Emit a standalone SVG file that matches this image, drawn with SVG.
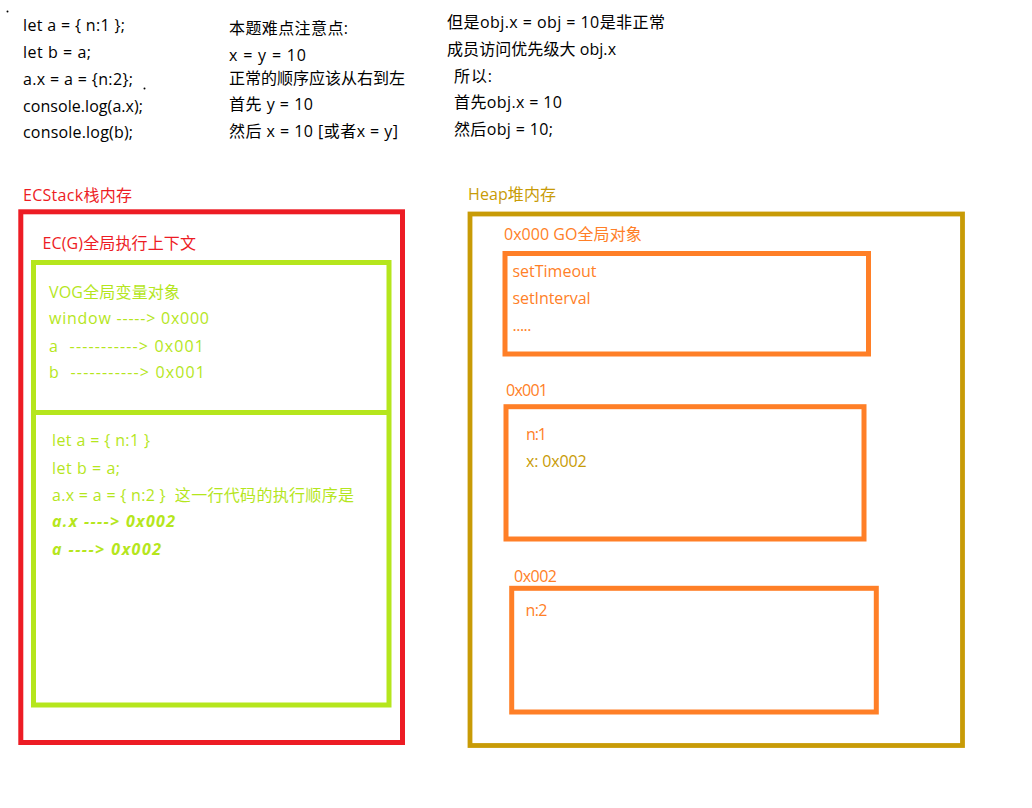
<svg xmlns="http://www.w3.org/2000/svg" width="1032" height="808" viewBox="0 0 1032 808">
<style>
text{font-family:"Open Sans","Noto Sans CJK SC",sans-serif;font-size:16px}
.k{fill:#000}
.r{fill:#ED1C24}
.g{fill:#B5E61D}
.y{fill:#C89B06}
.o{fill:#FF7F27}
.bi{font-weight:bold;font-style:italic}
.box{fill:none}
</style>
<rect width="1032" height="808" fill="#fff"/>
<g id="notes">
<circle cx="7.5" cy="11.5" r="1" fill="#000"/>
<circle cx="144.5" cy="88.5" r="1" fill="#000"/>
<text class="k" x="23" y="31" textLength="102" lengthAdjust="spacing">let a = { n:1 };</text>
<text class="k" x="23" y="58" textLength="68" lengthAdjust="spacing">let b = a;</text>
<text class="k" x="23" y="85" textLength="110" lengthAdjust="spacing">a.x = a = {n:2};</text>
<text class="k" x="23" y="112" textLength="120" lengthAdjust="spacing">console.log(a.x);</text>
<text class="k" x="23" y="138" textLength="110" lengthAdjust="spacing">console.log(b);</text>
<text class="k" x="229" y="34" textLength="119" lengthAdjust="spacing">本题难点注意点:</text>
<text class="k" x="229" y="61" textLength="77" lengthAdjust="spacing">x = y = 10</text>
<text class="k" x="229" y="84" textLength="176" lengthAdjust="spacing">正常的顺序应该从右到左</text>
<text class="k" x="229" y="110" textLength="84" lengthAdjust="spacing">首先 y = 10</text>
<text class="k" x="229" y="137" textLength="169" lengthAdjust="spacing">然后 x = 10 [或者x = y]</text>
<text class="k" x="447" y="28" textLength="218" lengthAdjust="spacing">但是obj.x = obj = 10是非正常</text>
<text class="k" x="447" y="55" textLength="169" lengthAdjust="spacing">成员访问优先级大 obj.x</text>
<text class="k" x="454" y="82" textLength="38" lengthAdjust="spacing">所以:</text>
<text class="k" x="454" y="108" textLength="108" lengthAdjust="spacing">首先obj.x = 10</text>
<text class="k" x="454" y="135" textLength="99" lengthAdjust="spacing">然后obj = 10;</text>
</g>
<g id="ecstack">
<text class="r" x="23" y="201" textLength="109" lengthAdjust="spacing">ECStack栈内存</text>
<rect class="box" x="20.8" y="211.8" width="381.7" height="530.7" stroke="#ED1C24" stroke-width="5"/>
<text class="r" x="42.5" y="249" textLength="153.5" lengthAdjust="spacing">EC(G)全局执行上下文</text>
</g>
<g id="ecg">
<rect class="box" x="33.5" y="262.5" width="355.5" height="442.5" stroke="#B5E61D" stroke-width="5"/>
<line x1="33.5" y1="412.5" x2="389" y2="412.5" stroke="#B5E61D" stroke-width="5"/>
</g>
<g id="vog">
<text class="g" x="49" y="298" textLength="131" lengthAdjust="spacing">VOG全局变量对象</text>
<text class="g" x="49" y="324" textLength="160" lengthAdjust="spacing">window -----&gt; 0x000</text>
<text class="g" x="49" y="352" xml:space="preserve" textLength="155" lengthAdjust="spacing">a  -----------&gt; 0x001</text>
<text class="g" x="49" y="378" xml:space="preserve" textLength="156" lengthAdjust="spacing">b  -----------&gt; 0x001</text>
</g>
<g id="code">
<text class="g" x="52" y="446" textLength="98" lengthAdjust="spacing">let a = { n:1 }</text>
<text class="g" x="52" y="474" textLength="68" lengthAdjust="spacing">let b = a;</text>
<text class="g" x="52" y="501" xml:space="preserve" textLength="302" lengthAdjust="spacing">a.x = a = { n:2 }  这一行代码的执行顺序是</text>
<text class="g bi" x="52" y="527" textLength="123" lengthAdjust="spacing">a.x ----&gt; 0x002</text>
<text class="g bi" x="52" y="555" textLength="109" lengthAdjust="spacing">a ----&gt; 0x002</text>
</g>
<g id="heap">
<text class="y" x="468" y="200" textLength="88" lengthAdjust="spacing">Heap堆内存</text>
<rect class="box" x="470" y="214" width="492.5" height="531.5" stroke="#C89B06" stroke-width="4.8"/>
</g>
<g id="go">
<text class="o" x="504" y="240" textLength="137.7" lengthAdjust="spacing">0x000 GO全局对象</text>
<rect class="box" x="505" y="253.5" width="363.5" height="100.5" stroke="#FF7F27" stroke-width="5"/>
<text class="o" x="512.5" y="277" textLength="84" lengthAdjust="spacing">setTimeout</text>
<text class="o" x="512.5" y="304" textLength="78" lengthAdjust="spacing">setInterval</text>
<text class="o" x="512.5" y="331" textLength="19" lengthAdjust="spacing">.....</text>
</g>
<g id="obj001">
<text class="o" x="506" y="396" textLength="42" lengthAdjust="spacing">0x001</text>
<rect class="box" x="506" y="406.7" width="358" height="132.3" stroke="#FF7F27" stroke-width="5"/>
<text class="o" x="526" y="440" textLength="21" lengthAdjust="spacing">n:1</text>
<text class="y" x="526" y="467" textLength="60.7" lengthAdjust="spacing">x: 0x002</text>
</g>
<g id="obj002">
<text class="o" x="514" y="582" textLength="43" lengthAdjust="spacing">0x002</text>
<rect class="box" x="511.7" y="588.3" width="364.6" height="123.7" stroke="#FF7F27" stroke-width="5"/>
<text class="o" x="525.5" y="616" textLength="22" lengthAdjust="spacing">n:2</text>
</g>
<g id="connectors"></g>
</svg>
